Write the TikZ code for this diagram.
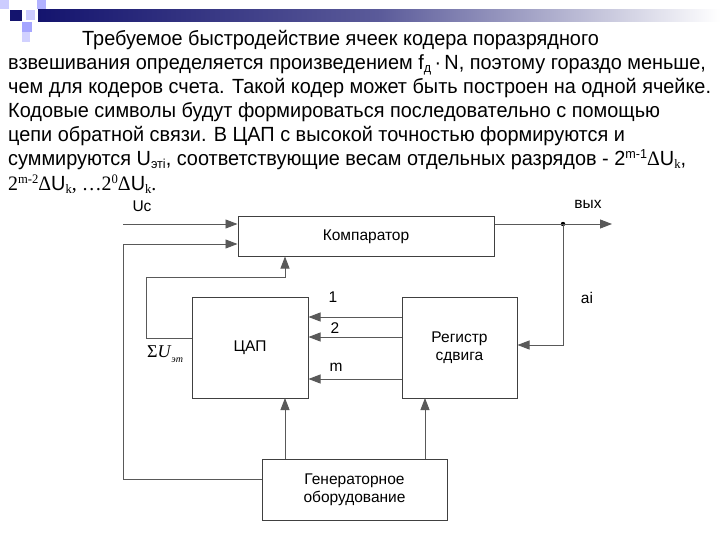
\documentclass[tikz,border=0pt]{standalone}
\usepackage{fontspec}
\setmainfont{Liberation Sans}
\newfontfamily\serifx{Liberation Serif}
\usetikzlibrary{arrows.meta}
\definecolor{deco}{RGB}{20,20,110}
\tikzset{
  blk/.style={draw=black!75, line width=1pt, minimum width=#1, inner sep=0pt},
  wire/.style={draw=black!65, line width=0.9pt},
  arr/.style={wire, -{Triangle[length=12pt,width=9pt]}},
  txt/.style={anchor=base west, inner sep=0pt, font=\fontsize{20.5}{24}\selectfont},
  lbl/.style={inner sep=0pt, font=\fontsize{15.5}{18}\selectfont}
}
\newcommand{\sq}[1]{\scalebox{0.97}[1]{#1}}
\begin{document}
\begin{tikzpicture}[x=1pt,y=-1pt]
\useasboundingbox[fill=white] (0,0) rectangle (720,540);
% decoration
\shade[left color=deco, right color=white, middle color=deco!70] (38,10) rectangle (720,22);
\fill[deco] (10,10) rectangle (22,21);
\fill[blue!20] (0,0) rectangle (9,9);
\fill[blue!30] (37,0) rectangle (46,9);
\fill[blue!20] (26,10) rectangle (35,20);
\fill[blue!35] (22,22) rectangle (32,32);
\fill[blue!18] (22,32) rectangle (30,42);
% text
\node[txt] (t1) at (82,46) {\sq{Требуемое быстродействие ячеек кодера поразрядного}};
\node[txt] (t2) at (8,70) {\sq{взвешивания определяется произведением f\raisebox{-3pt}{\fontsize{13}{14}\selectfont д}\,·\,N, поэтому гораздо меньше,}};
\node[txt] (t3) at (8,94) {\sq{чем для кодеров счета. Такой кодер может быть построен на одной ячейке.}};
\node[txt] (t4) at (8,118) {\sq{Кодовые символы будут формироваться последовательно с помощью}};
\node[txt] (t5) at (8,142) {\sq{цепи обратной связи. В ЦАП с высокой точностью формируются и}};
\node[txt] (t6) at (8,166) {\sq{суммируются U\raisebox{-3pt}{\fontsize{13}{14}\selectfont эті}, соответствующие весам отдельных разрядов - 2\raisebox{7pt}{\fontsize{13}{14}\selectfont m-1}{\serifx Δ}U\raisebox{-3pt}{\fontsize{13}{14}\selectfont\serifx k},}};
\node[txt] (t7) at (8,191) {\sq{\serifx 2\raisebox{7pt}{\fontsize{13}{14}\selectfont m-2}Δ{\rmfamily U}\raisebox{-3pt}{\fontsize{13}{14}\selectfont k}, …2\raisebox{7pt}{\fontsize{13}{14}\selectfont 0}Δ{\rmfamily U}\raisebox{-3pt}{\fontsize{13}{14}\selectfont k}.}};
% blocks
\node[blk=256pt, minimum height=39pt, lbl] (cmp) at (366,236.5) {Компаратор};
\node[blk=116pt, minimum height=101pt, lbl] (dac) at (250,347.5) {ЦАП};
\node[blk=115pt, minimum height=101pt, lbl, align=center] (reg) at (459.5,347.5) {Регистр\\сдвига};
\node[blk=185pt, minimum height=61pt, lbl, align=center] (gen) at (354.5,489.5) {Генераторное\\оборудование};
% coordinates
\coordinate (uin) at (123,224);
\coordinate (dot) at (563,224);
\coordinate (out) at (612,224);
\fill (dot) circle (2.2pt);
\draw[arr] (uin) -- (uin -| cmp.west);
\draw[arr] (gen.west |- 0,479) -| (123,244) -- (cmp.west |- 0,244);
\draw[wire] (cmp.east |- dot) -- (dot);
\draw[arr] (dot) -- (out);
\draw[arr] (dot) |- (reg.east |- 0,345);
\draw[arr] (dac.west |- 0,338) -| (146,277) -| (285,256.5);
\draw[arr] (reg.west |- 0,317) -- (dac.east |- 0,317);
\draw[arr] (reg.west |- 0,337) -- (dac.east |- 0,337);
\draw[arr] (reg.west |- 0,379) -- (dac.east |- 0,379);
\draw[arr] (285,459) -- (285,398);
\draw[arr] (425,459) -- (425,398);
% labels
\node[lbl] (luc) at (142,206) {Uc};
\node[lbl] (lout) at (588,204) {вых};
\node[lbl] (lai) at (587,298) {ai};
\node[lbl] (l1) at (333,297) {1};
\node[lbl] (l2) at (335,328) {2};
\node[lbl] (lm) at (336,367) {m};
\node[inner sep=0pt, font=\fontsize{18}{20}\selectfont\serifx] (lsum) at (165,354) {Σ\textit{U}\raisebox{-5pt}{\fontsize{10}{11}\selectfont\textit{эт}}};
\end{tikzpicture}
\end{document}
